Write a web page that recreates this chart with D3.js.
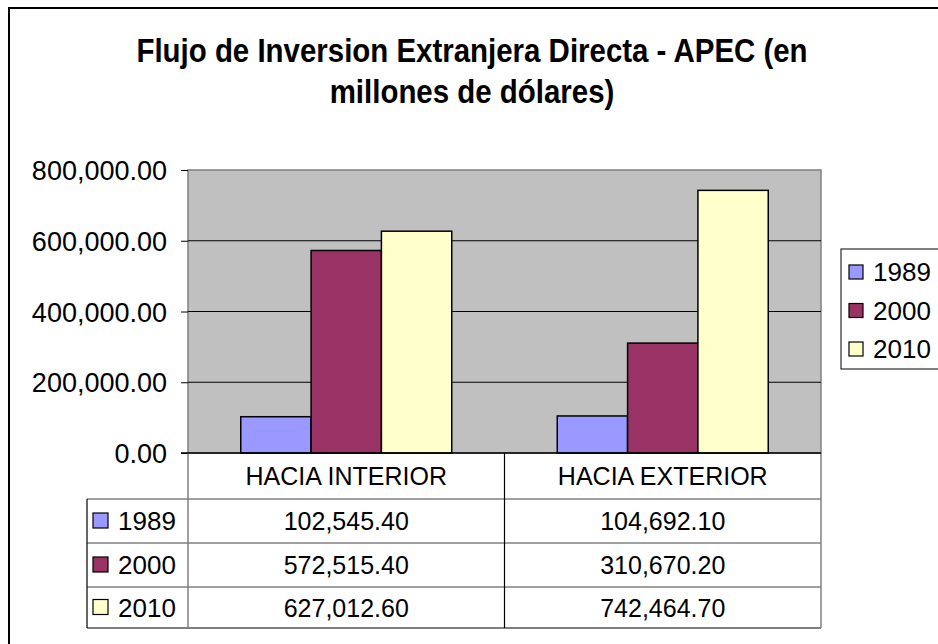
<!DOCTYPE html>
<html>
<head>
<meta charset="utf-8">
<script src="https://cdn.jsdelivr.net/npm/d3@7"></script>
<style>
  body { margin: 0; background: #fff; }
  text { font-family: "Liberation Sans", Arial, sans-serif; fill: #000; }
</style>
</head>
<body>
<div class="canvas"></div>
<script>
// data
const categories = ['HACIA INTERIOR', 'HACIA EXTERIOR'];
const years = ['1989', '2000', '2010'];
const values1989 = [102545.40, 104692.10];
const values2000 = [572515.40, 310670.20];
const values2010 = [627012.60, 742464.70];
const yTicks = [0, 200000, 400000, 600000, 800000];
const colors = ['#9999ff', '#993366', '#ffffcc'];

const series = [values1989, values2000, values2010];

// layout
const W = 938, H = 644;
const plot = {left: 188, right: 821, top: 170, bottom: 453};
const rowLines = [453, 499, 543, 587, 628];
const tableLeft = 87;

const svg = d3.select('.canvas')
    .append('svg')
    .attr('width', W)
    .attr('height', H);

// outer frame (cut off on right and bottom)
svg.append('rect')
    .attr('x', 9).attr('y', 8)
    .attr('width', W + 20).attr('height', H + 20)
    .attr('fill', '#fff')
    .attr('stroke', '#000')
    .attr('stroke-width', 2);

// title - the original is a tall, narrow bold face
const title = svg.append('g')
    .attr('transform', 'translate(472,0) scale(0.95,1.1)')
    .append('text')
    .attr('text-anchor', 'middle')
    .style('font-weight', 'bold')
    .style('font-size', '31px');
title.append('tspan').attr('x', 0).attr('y', 56.5)
    .text('Flujo de Inversion Extranjera Directa - APEC (en');
title.append('tspan').attr('x', 0).attr('y', 94)
    .text('millones de dólares)');

// scales
const y = d3.scaleLinear().domain([0, 800000]).range([plot.bottom, plot.top]);
const x0 = d3.scaleBand().domain(categories).range([plot.left, plot.right]);
const x1 = d3.scaleBand().domain(years).range([0, x0.bandwidth()])
    .paddingInner(0).paddingOuter(0.75);

// plot background
svg.append('rect')
    .attr('x', plot.left).attr('y', plot.top)
    .attr('width', plot.right - plot.left)
    .attr('height', plot.bottom - plot.top)
    .attr('fill', '#c0c0c0')
    .attr('stroke', '#808080')
    .attr('stroke-width', 1.5);

// gridlines
svg.append('g')
    .selectAll('line')
    .data(yTicks.slice(1, -1))
    .join('line')
    .attr('x1', plot.left).attr('x2', plot.right)
    .attr('y1', d => y(d)).attr('y2', d => y(d))
    .attr('stroke', '#000')
    .attr('stroke-width', 1.2);

// y axis
const fmt = d3.format(',.2f');
const yAxis = svg.append('g')
    .attr('transform', `translate(${plot.left},0)`)
    .call(d3.axisLeft(y).tickValues(yTicks).tickSize(7).tickPadding(14).tickFormat(fmt));
yAxis.select('.domain').remove();
yAxis.selectAll('line').attr('stroke', '#000');
yAxis.selectAll('text')
    .style('font-size', '27px')
    .style('font-family', '"Liberation Sans", Arial, sans-serif')
    .attr('dy', '0.36em');

// bars
const groups = svg.append('g')
    .selectAll('g')
    .data(categories)
    .join('g')
    .attr('transform', d => `translate(${x0(d)},0)`);

groups.selectAll('rect')
    .data((c, ci) => years.map((yr, si) => ({yr, si, v: series[si][ci]})))
    .join('rect')
    .attr('x', d => x1(d.yr))
    .attr('width', x1.bandwidth())
    .attr('y', d => y(d.v))
    .attr('height', d => y(0) - y(d.v))
    .attr('fill', d => colors[d.si])
    .attr('stroke', '#000')
    .attr('stroke-width', 1.5);

// data table
const tbl = svg.append('g');
// horizontal row lines
tbl.selectAll('.hline')
    .data(rowLines.slice(1, -1))
    .join('line')
    .attr('x1', tableLeft).attr('x2', plot.right)
    .attr('y1', d => d).attr('y2', d => d)
    .attr('stroke', '#808080').attr('stroke-width', 1.5);
// bottom line
tbl.append('line')
    .attr('x1', tableLeft).attr('x2', plot.right)
    .attr('y1', rowLines[4]).attr('y2', rowLines[4])
    .attr('stroke', '#000').attr('stroke-width', 1.2);
// legend column left edge
tbl.append('line')
    .attr('x1', tableLeft).attr('x2', tableLeft)
    .attr('y1', rowLines[1]).attr('y2', rowLines[4])
    .attr('stroke', '#000').attr('stroke-width', 1.2);
// column separators
tbl.append('line')
    .attr('x1', plot.left).attr('x2', plot.left)
    .attr('y1', plot.bottom).attr('y2', rowLines[4])
    .attr('stroke', '#808080').attr('stroke-width', 1.5);
tbl.append('line')
    .attr('x1', x0(categories[1])).attr('x2', x0(categories[1]))
    .attr('y1', plot.bottom).attr('y2', rowLines[4])
    .attr('stroke', '#000').attr('stroke-width', 1.2);
tbl.append('line')
    .attr('x1', plot.right).attr('x2', plot.right)
    .attr('y1', plot.bottom).attr('y2', rowLines[4])
    .attr('stroke', '#808080').attr('stroke-width', 1.5);

// x axis line at zero
svg.append('line')
    .attr('x1', plot.left - 7).attr('x2', plot.right)
    .attr('y1', y(0)).attr('y2', y(0))
    .attr('stroke', '#000').attr('stroke-width', 1.5);

// header labels
tbl.selectAll('.hdr')
    .data(categories)
    .join('text')
    .attr('x', d => x0(d) + x0.bandwidth() / 2)
    .attr('y', (rowLines[0] + rowLines[1]) / 2)
    .attr('dy', '0.36em')
    .attr('text-anchor', 'middle')
    .style('font-size', '25px')
    .text(d => d);

// values and legend keys per row
years.forEach((yr, si) => {
    const cy = (rowLines[si + 1] + rowLines[si + 2]) / 2;
    tbl.append('rect')
        .attr('x', 93).attr('y', cy - 8)
        .attr('width', 15).attr('height', 15)
        .attr('fill', colors[si])
        .attr('stroke', '#000').attr('stroke-width', 1.2);
    tbl.append('text')
        .attr('x', 118).attr('y', cy)
        .attr('dy', '0.36em')
        .style('font-size', '26px')
        .text(yr);
    categories.forEach((c, ci) => {
        tbl.append('text')
            .attr('x', x0(c) + x0.bandwidth() / 2)
            .attr('y', cy)
            .attr('dy', '0.36em')
            .attr('text-anchor', 'middle')
            .style('font-size', '25px')
            .text(fmt(series[si][ci]));
    });
});

// legend on right (cut off)
const leg = svg.append('g');
leg.append('rect')
    .attr('x', 841).attr('y', 249)
    .attr('width', 120).attr('height', 120)
    .attr('fill', '#fff')
    .attr('stroke', '#000').attr('stroke-width', 1);
const legRows = leg.selectAll('g')
    .data(years)
    .join('g')
    .attr('transform', (d, i) => `translate(849,${272 + i * 38.5})`);
legRows.append('rect')
    .attr('x', 0).attr('y', -7)
    .attr('width', 14).attr('height', 14)
    .attr('fill', (d, i) => colors[i])
    .attr('stroke', '#000').attr('stroke-width', 1.2);
legRows.append('text')
    .attr('x', 24).attr('y', 0)
    .attr('dy', '0.36em')
    .style('font-size', '26px')
    .text(d => d);
</script>
</body>
</html>
